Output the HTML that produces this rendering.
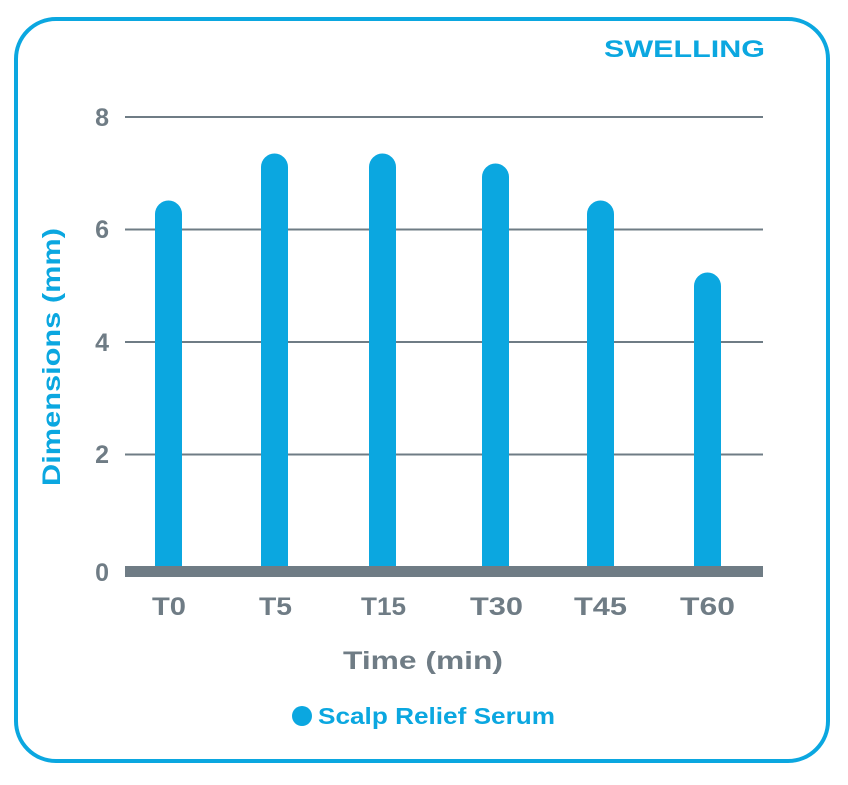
<!DOCTYPE html>
<html><head><style>
body{margin:0;background:#fff;}
svg text{font-family:"Liberation Sans",sans-serif;font-weight:bold;}
</style></head><body>
<svg width="848" height="780" viewBox="0 0 848 780" xmlns="http://www.w3.org/2000/svg">
<rect x="16" y="19" width="812" height="742" rx="40" ry="40" fill="#fff" stroke="#0ba7e0" stroke-width="4"/>
<text x="604" y="57" font-size="24" fill="#0ba7e0" textLength="161" lengthAdjust="spacingAndGlyphs">SWELLING</text>
<g stroke="#6f7c85" stroke-width="2">
<line x1="125" y1="117" x2="763" y2="117"/>
<line x1="125" y1="229.5" x2="763" y2="229.5"/>
<line x1="125" y1="342" x2="763" y2="342"/>
<line x1="125" y1="454.5" x2="763" y2="454.5"/>
</g>
<g font-size="25" fill="#6f7c85" text-anchor="end">
<text x="109" y="126">8</text>
<text x="109" y="238">6</text>
<text x="109" y="351">4</text>
<text x="109" y="463">2</text>
<text x="109" y="581">0</text>
</g>
<g fill="#0ba7e0">
<path d="M155,572 V214 a13,13 0 0 1 27,0 V572 Z"/>
<path d="M261,572 V167 a13,13 0 0 1 27,0 V572 Z"/>
<path d="M369,572 V167 a13,13 0 0 1 27,0 V572 Z"/>
<path d="M482,572 V177 a13,13 0 0 1 27,0 V572 Z"/>
<path d="M587,572 V214 a13,13 0 0 1 27,0 V572 Z"/>
<path d="M694,572 V286 a13,13 0 0 1 27,0 V572 Z"/>
</g>
<rect x="125" y="566" width="638" height="11" fill="#6f7c85"/>
<g font-size="25" fill="#6f7c85" lengthAdjust="spacingAndGlyphs">
<text x="152" y="615" textLength="34" lengthAdjust="spacingAndGlyphs">T0</text>
<text x="259" y="615" textLength="33" lengthAdjust="spacingAndGlyphs">T5</text>
<text x="361" y="615" textLength="45" lengthAdjust="spacingAndGlyphs">T15</text>
<text x="470" y="615" textLength="53" lengthAdjust="spacingAndGlyphs">T30</text>
<text x="574" y="615" textLength="53" lengthAdjust="spacingAndGlyphs">T45</text>
<text x="680" y="615" textLength="55" lengthAdjust="spacingAndGlyphs">T60</text>
<text x="343" y="669" textLength="160" lengthAdjust="spacingAndGlyphs">Time (min)</text>
</g>
<text transform="translate(60,486) rotate(-90)" font-size="25" fill="#0ba7e0" textLength="258" lengthAdjust="spacingAndGlyphs">Dimensions (mm)</text>
<circle cx="302" cy="716" r="10" fill="#0ba7e0"/>
<text x="318" y="724" font-size="23" fill="#0ba7e0" textLength="237" lengthAdjust="spacingAndGlyphs">Scalp Relief Serum</text>
</svg>
</body></html>
